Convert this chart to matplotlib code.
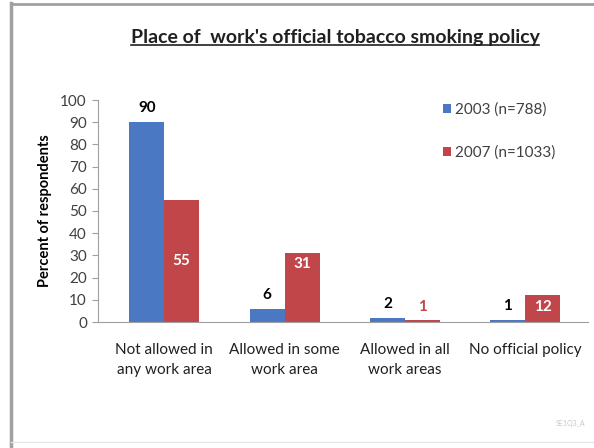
import matplotlib
matplotlib.use("Agg")
import matplotlib.pyplot as plt
from matplotlib.lines import Line2D
import numpy as np

# Data
categories = ["Not allowed in\nany work area", "Allowed in some\nwork area",
              "Allowed in all\nwork areas", "No official policy"]
series_names = ["2003 (n=788)", "2007 (n=1033)"]
values_2003 = [90, 6, 2, 1]
values_2007 = [55, 31, 1, 12]
yticks = [0, 10, 20, 30, 40, 50, 60, 70, 80, 90, 100]

# label placement per bar for the 2007 series
label_mode_2007 = ["center", "inside", "above", "inside"]

plt.rcParams['font.family'] = ['Lato', 'DejaVu Sans']

blue = '#4a78c2'
red = '#c0464a'
grey_text = '#404040'

fig = plt.figure(figsize=(5.94, 4.48), dpi=100)
fig.patch.set_facecolor('white')

# Frame around the chart
fig.add_artist(Line2D([11/594, 11/594], [0, 1 - 3/448], color='#a0a0a0', lw=2.5))
fig.add_artist(Line2D([11/594, 1], [1 - 4/448, 1 - 4/448], color='#a0a0a0', lw=2))
fig.add_artist(Line2D([11/594, 1], [6/448, 6/448], color='#e6e6e6', lw=1))

ax = fig.add_axes([98/594, 1 - 322/448, 490/594, 222/448])
x = np.arange(len(categories))
width = 0.29

bars1 = ax.bar(x - width/2, values_2003, width, color=blue, label=series_names[0])
bars2 = ax.bar(x + width/2, values_2007, width, color=red, label=series_names[1])

ax.set_xlim(-0.55, 3.52)
ax.set_ylim(0, 100)
ax.set_yticks(yticks)
ax.set_xticks(x)
ax.set_xticklabels(categories, fontsize=11, color='#202020', linespacing=1.55)
ax.tick_params(axis='x', length=0, pad=15)
ax.tick_params(axis='y', labelsize=11, labelcolor=grey_text, length=4, color='#a0a0a0', pad=4)

for side in ['top', 'right']:
    ax.spines[side].set_visible(False)
for side in ['left', 'bottom']:
    ax.spines[side].set_color('#a0a0a0')

ax.set_ylabel("Percent of respondents", fontsize=10.5, fontweight='bold', labelpad=6)

# Data labels
for b, v in zip(bars1, values_2003):
    ax.annotate(str(v), (b.get_x() + b.get_width()/2, v), xytext=(0, 5),
                textcoords='offset points', ha='center', va='bottom',
                fontsize=11, fontweight='bold', color='black')

for b, v, mode in zip(bars2, values_2007, label_mode_2007):
    cx = b.get_x() + b.get_width()/2
    if mode == "center":
        ax.text(cx, v/2, str(v), ha='center', va='center', fontsize=11,
                fontweight='bold', color='white')
    elif mode == "inside":
        ax.annotate(str(v), (cx, v), xytext=(0, -3), textcoords='offset points',
                    ha='center', va='top', fontsize=11, fontweight='bold', color='white')
    else:
        ax.annotate(str(v), (cx, v), xytext=(0, 4), textcoords='offset points',
                    ha='center', va='bottom', fontsize=11, fontweight='bold', color=red)

leg = ax.legend(loc='upper left', bbox_to_anchor=(0.675, 1.05), frameon=False,
                fontsize=11, handlelength=0.55, handleheight=0.55, handletextpad=0.3,
                labelspacing=1.85)
for t in leg.get_texts():
    t.set_color(grey_text)

# Underlined title
title = fig.text(335/594, 1 - 37/448, "Place of  work's official tobacco smoking policy",
                 ha='center', va='center', fontsize=14, fontweight='bold', color='#202020')
fig.canvas.draw()
bb = title.get_window_extent().transformed(fig.transFigure.inverted())
fig.add_artist(Line2D([bb.x0, bb.x1], [bb.y0 + 0.002, bb.y0 + 0.002], color='#202020', lw=1.2))

# watermark
fig.text(585/594, 1 - 423/448, "SE1Q3_A", ha='right', va='center', fontsize=5, color='#c8c8c8')

fig.savefig("out.png", dpi=100)
